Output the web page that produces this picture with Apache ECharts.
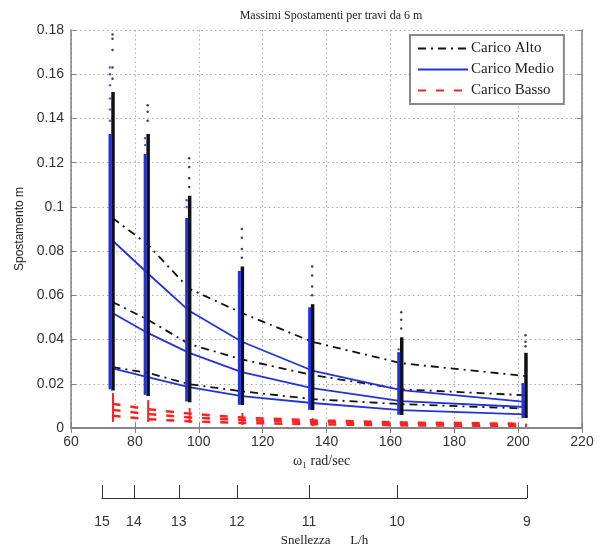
<!DOCTYPE html>
<html>
<head>
<meta charset="utf-8">
<script src="https://cdn.jsdelivr.net/npm/echarts@6/dist/echarts.min.js"></script>
<style>
  html, body { margin: 0; padding: 0; background: #fff; }
  #chart { width: 603px; height: 548px; }
</style>
</head>
<body>
<div id="chart"></div>
<script>
// omega (rad/sec) of each beam group
const colOmega = [73, 84, 97, 113.5, 135.5, 163.4, 202.3];

// curves through the groups
const altoTop = [0.095, 0.083, 0.063, 0.052, 0.039, 0.0293, 0.0235];
const altoMid = [0.057, 0.049, 0.038, 0.031, 0.024, 0.0175, 0.0148];
const altoLow = [0.0275, 0.025, 0.0198, 0.0166, 0.0131, 0.0108, 0.0088];
const medioTop = [0.0848, 0.070, 0.053, 0.039, 0.026, 0.0171, 0.0118];
const medioMid = [0.052, 0.043, 0.034, 0.0253, 0.018, 0.0122, 0.0095];
const medioLow = [0.027, 0.023, 0.0185, 0.0144, 0.0113, 0.0081, 0.0062];
const bassoTop = [0.011, 0.0085, 0.0065, 0.0047, 0.0035, 0.0025, 0.0019];
const bassoMid = [0.0082, 0.0063, 0.0048, 0.0036, 0.0027, 0.0019, 0.0014];
const bassoLow = [0.0055, 0.004, 0.003, 0.0023, 0.0017, 0.0012, 0.0009];

// vertical point clouds at each group (dense part low/high)
const blackLo = [0.017, 0.0145, 0.0117, 0.0104, 0.0081, 0.0059, 0.0045];
const blackHi = [0.152, 0.133, 0.105, 0.073, 0.056, 0.041, 0.034];
const blueLo = [0.0175, 0.015, 0.012, 0.0105, 0.0082, 0.006, 0.0045];
const blueHi = [0.133, 0.124, 0.095, 0.071, 0.0546, 0.0343, 0.0203];
const redLo = [0.0027, 0.0027, 0.0023, 0.0014, 0.0008, 0.0007, 0.0005];
const redHi = [0.0158, 0.0126, 0.009, 0.0068, 0.0045, 0.003, 0.002];

// sparse points above the dense part
const blackSparse = [
  [0.178, 0.176, 0.171, 0.163, 0.158],
  [0.146, 0.143, 0.139],
  [0.122, 0.118, 0.113, 0.109],
  [0.090, 0.086, 0.081, 0.077],
  [0.073, 0.069, 0.064, 0.060],
  [0.0523, 0.049, 0.045],
  [0.042, 0.039, 0.037]
];
const blueSparse = [
  [0.163, 0.160, 0.155, 0.149, 0.144, 0.139],
  [0.131, 0.128],
  [0.103, 0.100],
  [], [], [0.0355], []
];

// secondary axis: slenderness L/h vs omega
const snellLabels = ['15', '14', '13', '12', '11', '10', '9'];
const snellOmega = [69.7, 79.7, 93.8, 112, 134.6, 162.2, 203];

const yTicks = [0, 0.02, 0.04, 0.06, 0.08, 0.1, 0.12, 0.14, 0.16, 0.18];

const chart = echarts.init(document.getElementById('chart'));

const SERIF = '"Liberation Serif", "DejaVu Serif", serif';
const SANS = '"Liberation Sans", Arial, sans-serif';
const BOX = '#808080';

const pts = (arr) => colOmega.map((x, i) => [x, arr[i]]);

function curve(name, arr, color, type, width) {
  return {
    name: name, type: 'line', data: pts(arr), symbol: 'none',
    lineStyle: { color: color, type: type, width: width },
    itemStyle: { color: color }, silent: true, z: 3
  };
}

function band(lo, hi, color, widthPx, dx) {
  return {
    type: 'custom', silent: true, z: 4,
    data: colOmega.map((x, i) => [x, lo[i], hi[i]]),
    renderItem: function (params, api) {
      const top = api.coord([api.value(0), api.value(2)]);
      const bot = api.coord([api.value(0), api.value(1)]);
      return {
        type: 'rect',
        shape: { x: top[0] - widthPx / 2 + dx, y: top[1], width: widthPx, height: bot[1] - top[1] },
        style: { fill: color }
      };
    }
  };
}

function sparse(list, color, dOmega) {
  const data = [];
  list.forEach((vals, i) => vals.forEach((v) => data.push([colOmega[i] + dOmega, v])));
  return {
    type: 'scatter', data: data, symbolSize: 2.5, silent: true, z: 4,
    itemStyle: { color: color }
  };
}

const ALTO = '#111111', MEDIO = '#2233dd', BASSO = '#ff2222';
const dashDot = [8, 5, 2, 5];
const redDash = [8, 10];

chart.setOption({
  animation: false,
  title: {
    text: 'Massimi Spostamenti per travi da 6 m',
    left: 326, top: 5, textAlign: 'center',
    textStyle: { fontFamily: SERIF, fontSize: 12, fontWeight: 'normal', color: '#222' }
  },
  legend: {
    orient: 'vertical', left: 410, top: 35,
    itemWidth: 50, itemHeight: 14, itemGap: 6,
    padding: [6, 10, 6, 7],
    backgroundColor: '#fff', borderColor: '#888', borderWidth: 2,
    itemStyle: { opacity: 0 },
    textStyle: { fontFamily: SERIF, fontSize: 15, color: '#222', padding: [0, 0, 0, -2] },
    data: ['Carico Alto', 'Carico Medio', 'Carico Basso']
  },
  grid: [
    { left: 71, right: 21, top: 30, bottom: 120, containLabel: false },
    { left: 102, right: 76, top: 497, height: 1, containLabel: false }
  ],
  xAxis: [
    {
      gridIndex: 0, type: 'value', min: 60, max: 220, interval: 20,
      name: 'ω₁ rad/sec', nameLocation: 'middle', nameGap: 26,
      nameTextStyle: { fontFamily: SERIF, fontSize: 14, color: '#222', padding: [0, 10, 0, 0] },
      axisLine: { lineStyle: { color: BOX, width: 1.5 } },
      axisTick: { inside: true, length: 5, lineStyle: { color: BOX } },
      axisLabel: { fontFamily: SANS, fontSize: 14, color: '#333', margin: 7 },
      splitLine: { show: true, lineStyle: { color: '#aaa', type: [1.5, 3] } }
    },
    {
      gridIndex: 0, type: 'value', min: 60, max: 220, interval: 20, position: 'top',
      axisLine: { lineStyle: { color: BOX, width: 1.5 } },
      axisTick: { inside: true, length: 5, lineStyle: { color: BOX } },
      axisLabel: { show: false }, splitLine: { show: false }
    },
    {
      gridIndex: 1, type: 'value', min: snellOmega[0], max: snellOmega[snellOmega.length - 1],
      position: 'bottom',
      name: 'Snellezza      L/h', nameLocation: 'middle', nameGap: 36,
      nameTextStyle: { fontFamily: SERIF, fontSize: 13, color: '#222', padding: [0, 0, 0, 20] },
      axisLine: { lineStyle: { color: '#333', width: 1 } },
      axisTick: { inside: true, length: 13, customValues: snellOmega, lineStyle: { color: '#333' } },
      axisLabel: {
        customValues: snellOmega, margin: 17,
        fontFamily: SANS, fontSize: 14, color: '#333',
        formatter: (v) => {
          const i = snellOmega.findIndex((o) => Math.abs(o - v) < 0.01);
          return i >= 0 ? snellLabels[i] : '';
        }
      },
      splitLine: { show: false }
    }
  ],
  yAxis: [
    {
      gridIndex: 0, type: 'value', min: 0, max: 0.18, interval: 0.02,
      name: 'Spostamento m', nameLocation: 'middle', nameGap: 45,
      nameTextStyle: { fontFamily: SANS, fontSize: 12, color: '#222' },
      axisLine: { show: true, lineStyle: { color: BOX, width: 1.5 } },
      axisTick: { show: true, inside: true, length: 5, lineStyle: { color: BOX } },
      axisLabel: {
        fontFamily: SANS, fontSize: 14, color: '#333', margin: 7,
        formatter: (v) => {
          const t = yTicks.find((y) => Math.abs(y - v) < 1e-9);
          return String(t !== undefined ? t : +v.toFixed(2));
        }
      },
      splitLine: { show: true, lineStyle: { color: '#aaa', type: [1.5, 3] } }
    },
    {
      gridIndex: 0, type: 'value', min: 0, max: 0.18, interval: 0.02, position: 'right',
      axisLine: { show: true, lineStyle: { color: BOX, width: 1.5 } },
      axisTick: { show: true, inside: true, length: 5, lineStyle: { color: BOX } },
      axisLabel: { show: false }, splitLine: { show: false }
    },
    { gridIndex: 1, type: 'value', show: false, min: 0, max: 1 }
  ],
  series: [
    curve('Carico Alto', altoTop, ALTO, dashDot, 1.8),
    curve('Carico Alto', altoMid, ALTO, dashDot, 1.8),
    curve('Carico Alto', altoLow, ALTO, dashDot, 1.8),
    curve('Carico Medio', medioTop, MEDIO, 'solid', 1.8),
    curve('Carico Medio', medioMid, MEDIO, 'solid', 1.8),
    curve('Carico Medio', medioLow, MEDIO, 'solid', 1.8),
    curve('Carico Basso', bassoTop, BASSO, redDash, 2.5),
    curve('Carico Basso', bassoMid, BASSO, redDash, 2.5),
    curve('Carico Basso', bassoLow, BASSO, redDash, 2.5),
    band(blackLo, blackHi, ALTO, 3.5, 0.5),
    sparse(blackSparse, ALTO, 0),
    band(blueLo, blueHi, MEDIO, 3, -2.5),
    sparse(blueSparse, MEDIO, -0.8),
    band(redLo, redHi, BASSO, 2, 0.5)
  ]
});
</script>
</body>
</html>
